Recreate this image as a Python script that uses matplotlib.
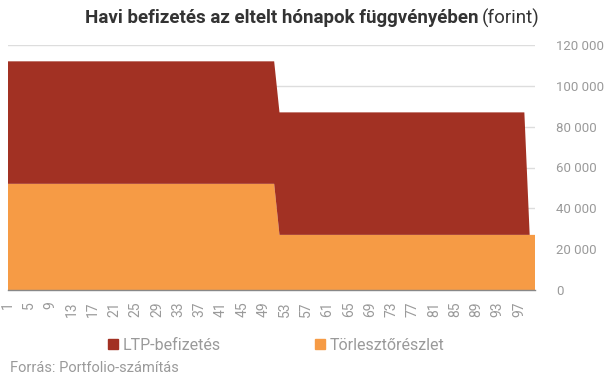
import numpy as np
import matplotlib.pyplot as plt
from matplotlib.patches import Patch
from matplotlib.ticker import FuncFormatter

plt.rcParams['font.family'] = ['Roboto', 'DejaVu Sans']

# havi adatok, 1-100. hónap
months = np.arange(1, 101)
torleszto = np.array([52000] * 51 + [27000] * 49)
ltp = np.array([60000] * 51 + [60000] * 47 + [0] * 2)

red = '#A23123'
orange = '#F69B45'
gray = '#9a9a9a'

fig = plt.figure(figsize=(6.05, 3.78), dpi=100)
ax = fig.add_axes([8 / 605, 1 - 290 / 378, 527 / 605, 245 / 378])

ax.stackplot(months, torleszto, ltp, colors=[orange, red], linewidth=0)

ax.set_xlim(1, 100)
ax.set_ylim(0, 120000)
ax.set_yticks(np.arange(0, 120001, 20000))
ax.yaxis.set_major_formatter(FuncFormatter(lambda v, p: f'{int(v):,}'.replace(',', ' ')))
ax.yaxis.tick_right()
ax.grid(axis='y', color='#dddddd', linewidth=1)
ax.set_axisbelow(True)
ax.set_xticks(np.arange(1, 100, 4))
ax.tick_params(axis='x', labelrotation=90, labelsize=10, labelcolor=gray, length=0, pad=8)
ax.tick_params(axis='y', labelsize=9.5, labelcolor=gray, length=0, pad=15)
for lbl in ax.get_yticklabels():
    lbl.set_horizontalalignment('left')
for s in ['top', 'left', 'right']:
    ax.spines[s].set_visible(False)
ax.spines['bottom'].set_color('#888888')
ax.spines['bottom'].set_linewidth(1)

# cím: félkövér rész + normál "(forint)"
t1 = fig.text(85 / 605, 1 - 18 / 378, 'Havi befizetés az eltelt hónapok függvényében',
              ha='left', va='center', fontsize=13.5, fontweight='bold', color='#333333')
fig.canvas.draw()
bb = t1.get_window_extent()
fig.text((bb.x1 + 3) / 605, 1 - 18 / 378, '(forint)', ha='left', va='center',
         fontsize=13.5, color='#333333')

handles = [Patch(color=red, label='LTP-befizetés'), Patch(color=orange, label='Törlesztőrészlet')]
fig.legend(handles=handles, loc='center left', bbox_to_anchor=(94 / 605, 1 - 345 / 378), ncol=2,
           frameon=False, fontsize=11.5, labelcolor=gray, handlelength=0.6, handleheight=0.6,
           handletextpad=0.3, columnspacing=5.9)

fig.text(10 / 605, 1 - 368 / 378, 'Forrás: Portfolio-számítás', ha='left', va='center',
         fontsize=10.5, color=gray)

fig.savefig('out.png', dpi=100)
